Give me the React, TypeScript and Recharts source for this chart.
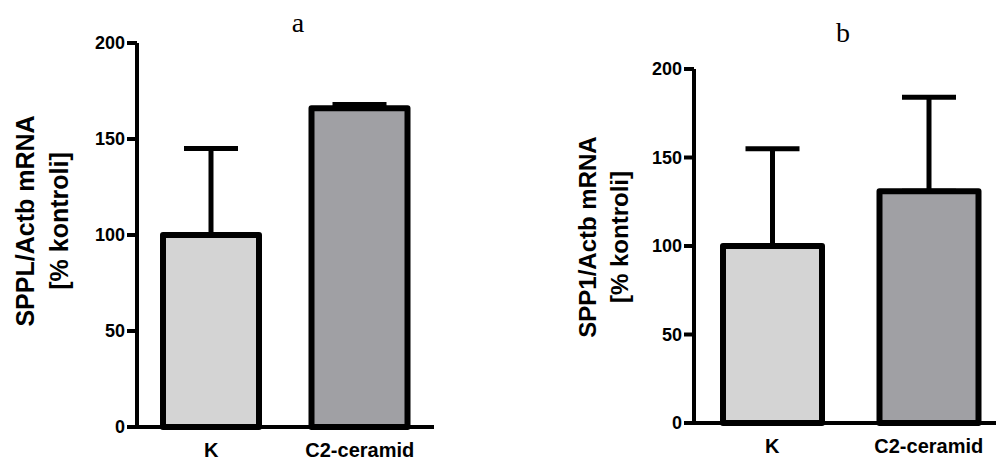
import React from 'react';
import { BarChart, Bar, XAxis, YAxis, Cell, ErrorBar, Label } from 'recharts';

// group names and values
const categories = ['K', 'C2-ceramid'];
const spplValues = [100, 166];
const spplErrors = [45, 2];
const spp1Values = [100, 131];
const spp1Errors = [55, 53];
const yTicks = [0, 50, 100, 150, 200];

const FILLS = ['#d4d4d4', '#a0a0a4'];
const SANS = '"Liberation Sans", Arial, sans-serif';
const SERIF = '"Liberation Serif", "Times New Roman", serif';

const buildData = (values: number[], errors: number[]) =>
  categories.map((name, i) => ({ name, value: values[i], err: [0, errors[i]] }));

interface PanelProps {
  letter: string;
  line1: string;
  line2: string;
  values: number[];
  errors: number[];
  left: number;
  width: number;
  top: number;
  axisWidth: number;
  xAxisHeight: number;
  right: number;
  barSize: number;
  labelX1: number;
  labelX2: number;
  labelY: number;
  labelSize: number;
  letterX: number;
  letterY: number;
}

const Panel: React.FC<PanelProps> = (p) => {
  const data = buildData(p.values, p.errors);

  const AxisTitle = () => (
    <g>
      <text
        x={p.labelX1}
        y={p.labelY}
        transform={`rotate(-90, ${p.labelX1}, ${p.labelY})`}
        textAnchor="middle"
        dominantBaseline="central"
        fontFamily={SANS}
        fontWeight={700}
        fontSize={p.labelSize}
        fill="#000"
      >
        {p.line1}
      </text>
      <text
        x={p.labelX2}
        y={p.labelY}
        transform={`rotate(-90, ${p.labelX2}, ${p.labelY})`}
        textAnchor="middle"
        dominantBaseline="central"
        fontFamily={SANS}
        fontWeight={700}
        fontSize={p.labelSize}
        fill="#000"
      >
        {p.line2}
      </text>
    </g>
  );

  return (
    <div style={{ position: 'absolute', left: p.left, top: 0, width: p.width, height: 461 }}>
      <div
        style={{
          position: 'absolute',
          left: p.letterX - 20,
          width: 40,
          top: p.letterY - 24,
          textAlign: 'center',
          fontFamily: SERIF,
          fontSize: 28,
          lineHeight: '28px',
          color: '#000',
        }}
      >
        {p.letter}
      </div>
      <BarChart
        width={p.width}
        height={461}
        data={data}
        margin={{ top: p.top, right: p.right, left: 0, bottom: 0 }}
        style={{ position: 'absolute', left: 0, top: 0 }}
      >
        <XAxis
          dataKey="name"
          height={p.xAxisHeight}
          axisLine={{ stroke: '#000', strokeWidth: 4 }}
          tickLine={{ stroke: 'transparent' }}
          tickSize={14}
          tickMargin={2}
          tick={{ fill: '#000', fontSize: 20, fontWeight: 700, fontFamily: SANS }}
        />
        <YAxis
          width={p.axisWidth}
          domain={[0, 200]}
          ticks={yTicks}
          interval={0}
          axisLine={{ stroke: '#000', strokeWidth: 4 }}
          tickLine={{ stroke: '#000', strokeWidth: 4 }}
          tickSize={10}
          tickMargin={2}
          tick={{ fill: '#000', fontSize: 18, fontWeight: 700, fontFamily: SANS }}
        >
          <Label content={<AxisTitle />} />
        </YAxis>
        <Bar
          dataKey="value"
          barSize={p.barSize}
          stroke="#000"
          strokeWidth={6}
          strokeLinejoin="round"
          isAnimationActive={false}
        >
          {data.map((d, i) => (
            <Cell key={`cell-${i}`} fill={FILLS[i % FILLS.length]} />
          ))}
          <ErrorBar
            dataKey="err"
            width={27}
            stroke="#000"
            strokeWidth={5}
            direction="y"
            isAnimationActive={false}
          />
        </Bar>
      </BarChart>
    </div>
  );
};

export default function App() {
  return (
    <div
      style={{
        position: 'absolute',
        left: 0,
        top: 0,
        width: 996,
        height: 461,
        overflow: 'hidden',
        background: '#fff',
      }}
    >
      <Panel
        letter="a"
        line1="SPPL/Actb mRNA"
        line2="[% kontroli]"
        values={spplValues}
        errors={spplErrors}
        left={0}
        width={480}
        top={43}
        axisWidth={137}
        xAxisHeight={34}
        right={46}
        barSize={96}
        labelX1={25}
        labelX2={59}
        labelY={221}
        labelSize={25}
        letterX={298}
        letterY={33}
      />
      <Panel
        letter="b"
        line1="SPP1/Actb mRNA"
        line2="[% kontroli]"
        values={spp1Values}
        errors={spp1Errors}
        left={500}
        width={520}
        top={69}
        axisWidth={194}
        xAxisHeight={38}
        right={13}
        barSize={99}
        labelX1={87}
        labelX2={119}
        labelY={237}
        labelSize={24}
        letterX={343}
        letterY={43}
      />
    </div>
  );
}
